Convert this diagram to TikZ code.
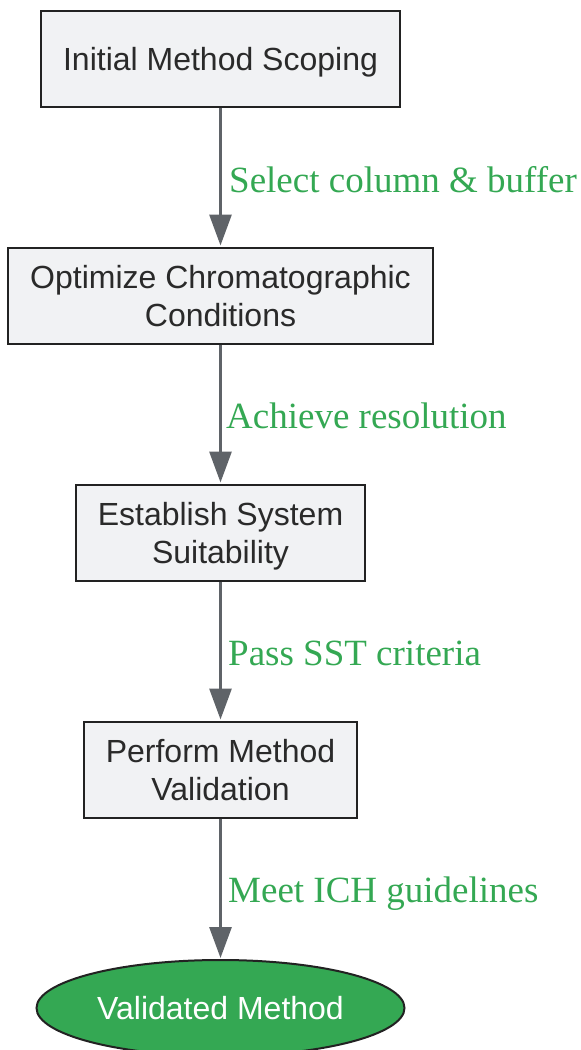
\documentclass[tikz,border=0pt]{standalone}
\usepackage{fontspec}
\setmainfont{Liberation Sans}
\newfontfamily\labelfont{Liberation Serif}
\usetikzlibrary{shapes.geometric,arrows.meta}
\definecolor{boxfill}{HTML}{F1F2F4}
\definecolor{boxline}{HTML}{222222}
\definecolor{boxtext}{HTML}{2A2A2A}
\definecolor{arrowgray}{HTML}{5F6368}
\definecolor{okgreen}{HTML}{34A853}
\tikzset{
  stepbox/.style={draw=boxline, line width=2pt, fill=boxfill, align=center,
    inner xsep=22pt, inner ysep=0pt, minimum height=96pt,
    text height=23pt, text depth=0pt,
    font=\fontsize{32}{38}\selectfont, text=boxtext},
  twoline/.style={text height=61pt, text depth=0pt},
  endnode/.style={ellipse, draw=boxline, line width=2pt, fill=okgreen,
    minimum width=368pt, minimum height=96pt, inner sep=0pt,
    text height=23pt, text depth=0pt,
    font=\fontsize{32}{38}\selectfont, text=white},
  flow/.style={draw=arrowgray, line width=3pt,
    -{Triangle[length=31pt,width=22pt]}, shorten >=1pt},
  edgelabel/.style={anchor=west, text=okgreen, inner sep=0pt,
    text height=25pt, text depth=0pt,
    font=\labelfont\fontsize{37}{40}\selectfont}
}
\begin{document}
\begin{tikzpicture}[x=1pt,y=-1pt]
\useasboundingbox (0,0) rectangle (581,1050);
\node[stepbox] (n1) at (220.5,58.5) {Initial Method Scoping};
\node[stepbox,twoline] (n2) at (220.5,295.5) {Optimize Chromatographic\\Conditions};
\node[stepbox,twoline] (n3) at (220.5,532.5) {Establish System\\Suitability};
\node[stepbox,twoline] (n4) at (220.5,769.5) {Perform Method\\Validation};
\node[endnode] (n5) at (220.5,1008) {Validated Method};
\draw[flow] (n1) -- (n2);
\draw[flow] (n2) -- (n3);
\draw[flow] (n3) -- (n4);
\draw[flow] (n4) -- (n5);
\node[edgelabel] (l1) at (229,180) {Select column \& buffer};
\node[edgelabel] (l2) at (226,416) {Achieve resolution};
\node[edgelabel] (l3) at (228,653) {Pass SST criteria};
\node[edgelabel] (l4) at (228,890) {Meet ICH guidelines};
\end{tikzpicture}
\end{document}
